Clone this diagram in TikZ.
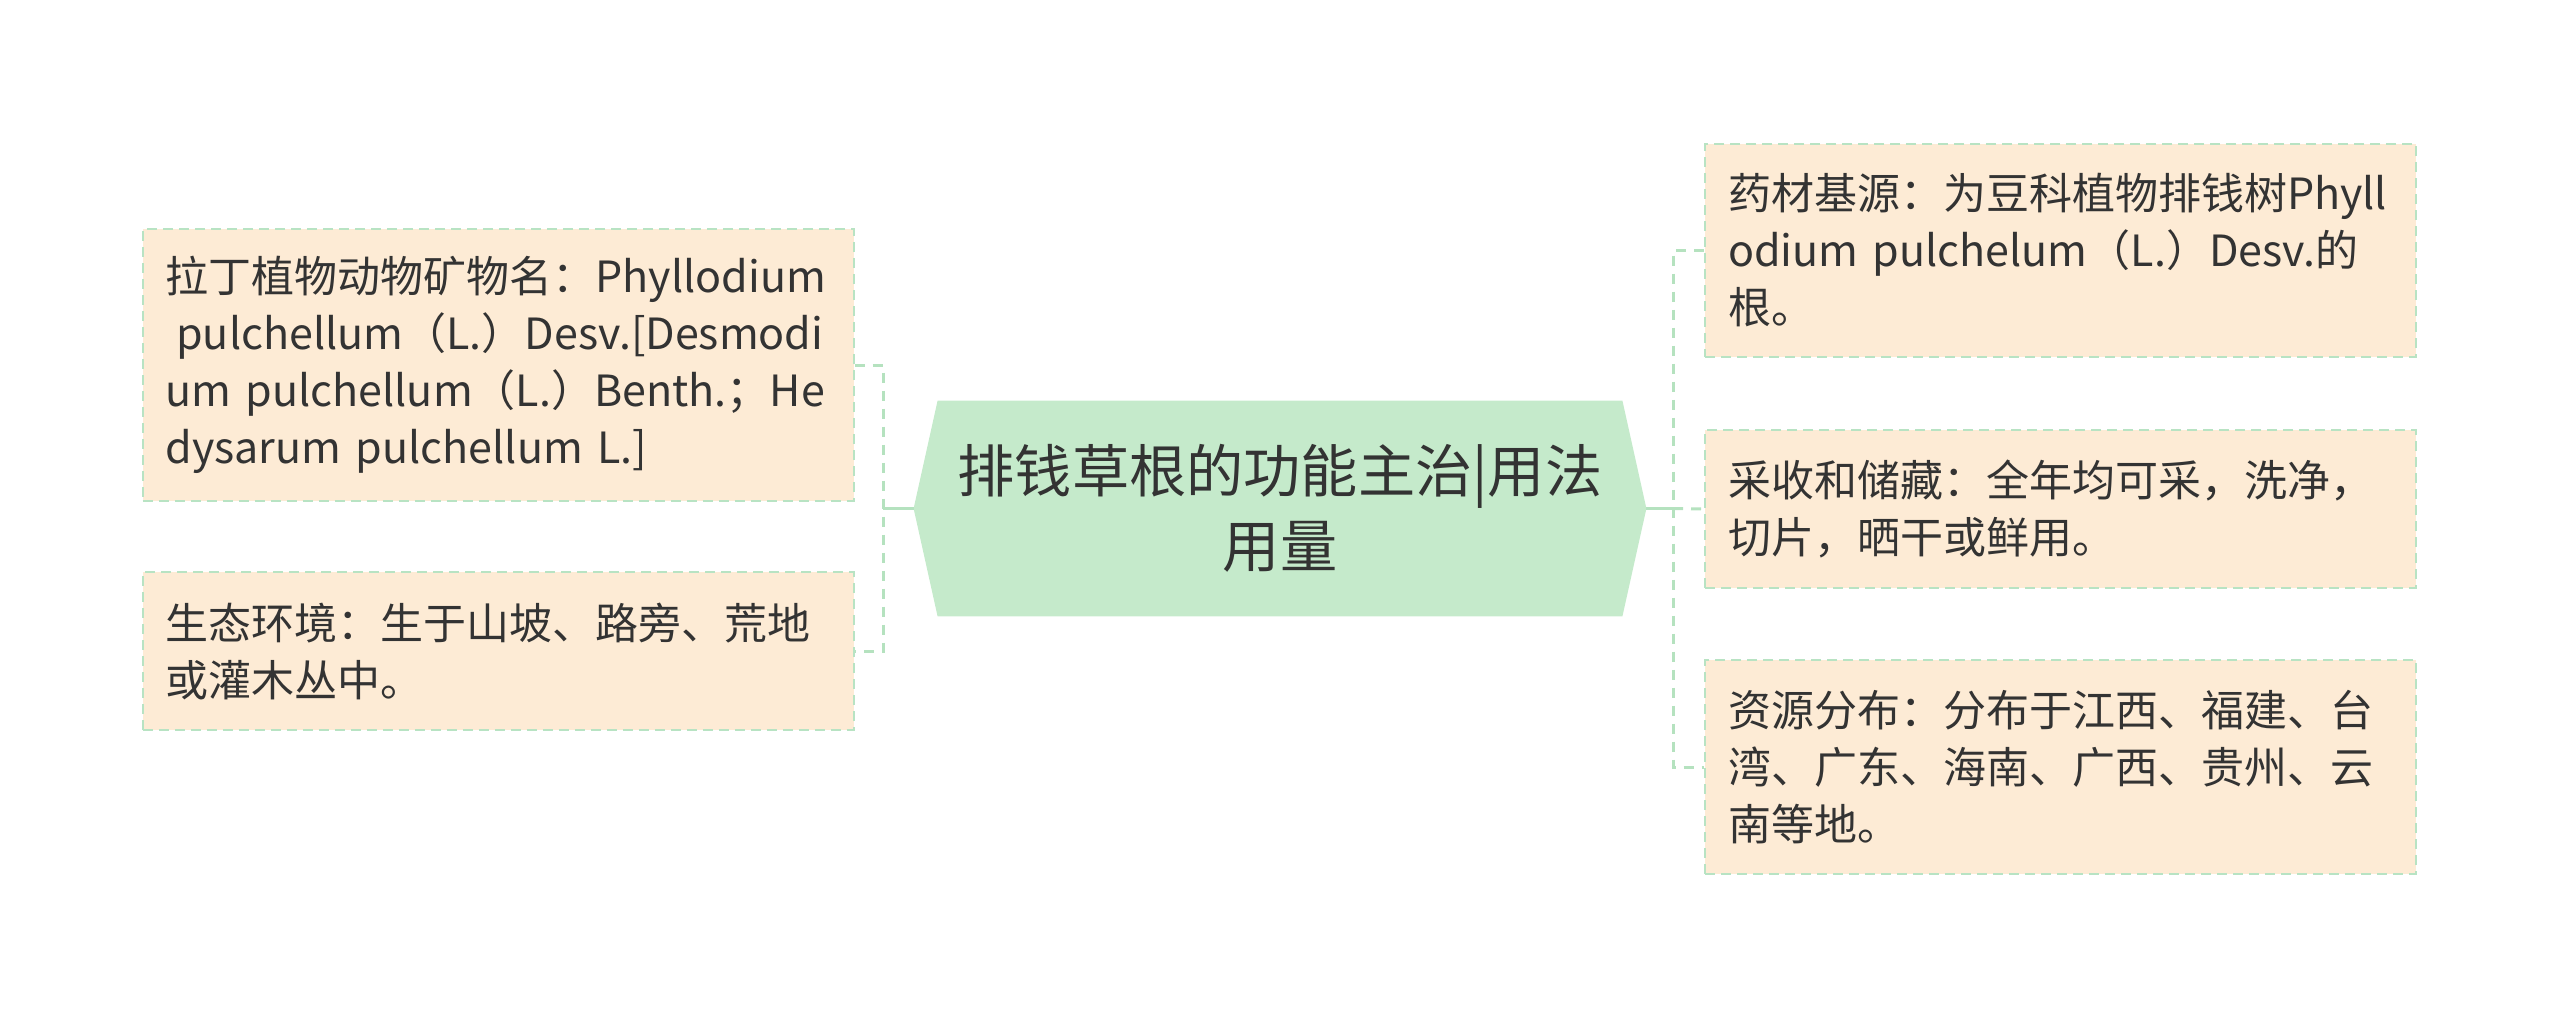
\documentclass[tikz,border=0pt]{standalone}
\usepackage{fontspec}
\setmainfont{Noto Sans CJK SC}
\usepackage{tikz}
\usetikzlibrary{calc,backgrounds}
\definecolor{leaffill}{HTML}{FDEBD5}
\definecolor{leafline}{HTML}{B8E3C3}
\definecolor{rootfill}{HTML}{C5EACB}
\definecolor{linkgreen}{HTML}{B5E2BF}
\definecolor{textgray}{HTML}{333333}

\begin{document}
\begin{tikzpicture}[x=0.5pt,y=-0.5pt,
        leaf/.style={shape=rectangle,fill=leaffill,draw=leafline,line width=1pt,
            dash pattern=on 5pt off 3pt,text=textgray,align=left,
            text width=332.5pt,inner xsep=11.5pt,inner ysep=0pt,
            font=\fontsize{21.5pt}{28.5pt}\selectfont},
        root/.style={shape=rectangle,inner sep=0pt,text=textgray,align=center,
            minimum width=366pt,minimum height=107.5pt,
            font=\fontsize{28.6pt}{37.5pt}\selectfont},
        link/.style={draw=linkgreen,line width=1.5pt,dash pattern=on 5pt off 4pt},
        stem/.style={draw=linkgreen,line width=1.5pt}]
    \useasboundingbox (0,0) rectangle (2560,1017);

    % centre topic
    \node (ctr) at (1280,508.5) [root] {排钱草根的功能主治|用法\\用量};
    \begin{scope}[on background layer]
        \fill[rootfill] (ctr.west) -- ($(ctr.north west)+(24,0)$) -- ($(ctr.north east)+(-24,0)$)
            -- (ctr.east) -- ($(ctr.south east)+(-24,0)$) -- ($(ctr.south west)+(24,0)$) -- cycle;
    \end{scope}

    % left side
    \node (lb1) at (498,365) [leaf,minimum height=136pt] {拉丁植物动物矿物名：Phyllodium\\
        \hspace*{.25em}pulchellum（L.）Desv.[Desmodi\\
        um pulchellum（L.）Benth.；He\\
        dysarum pulchellum L.]};
    \node (lb2) at (498,651) [leaf,minimum height=79pt] {生态环境：生于山坡、路旁、荒地\\
        或灌木丛中。};

    % right side
    \node (rb1) at (2060.5,250.5) [leaf,minimum height=106.5pt] {药材基源：为豆科植物排钱树Phyll\\
        odium pulchelum（L.）Desv.的\\
        根。};
    \node (rb2) at (2060.5,509) [leaf,minimum height=79pt] {采收和储藏：全年均可采，洗净，\\
        切片，晒干或鲜用。};
    \node (rb3) at (2060.5,767) [leaf,minimum height=107pt] {资源分布：分布于江西、福建、台\\
        湾、广东、海南、广西、贵州、云\\
        南等地。};

    \coordinate (jl) at (883,508.5);
    \coordinate (jr) at (1673,508.5);

    \draw[stem] (ctr.west) -- (jl);
    \draw[link] (lb1.east) -- (lb1.east -| jl) -- (lb2.east -| jl) -- (lb2.east);
    \draw[stem] (ctr.east) -- (jr);
    \draw[link] (rb1.west) -- (rb1.west -| jr) -- (rb3.west -| jr) -- (rb3.west);
    \draw[link] (jr) -- (rb2.west);
\end{tikzpicture}
\end{document}
